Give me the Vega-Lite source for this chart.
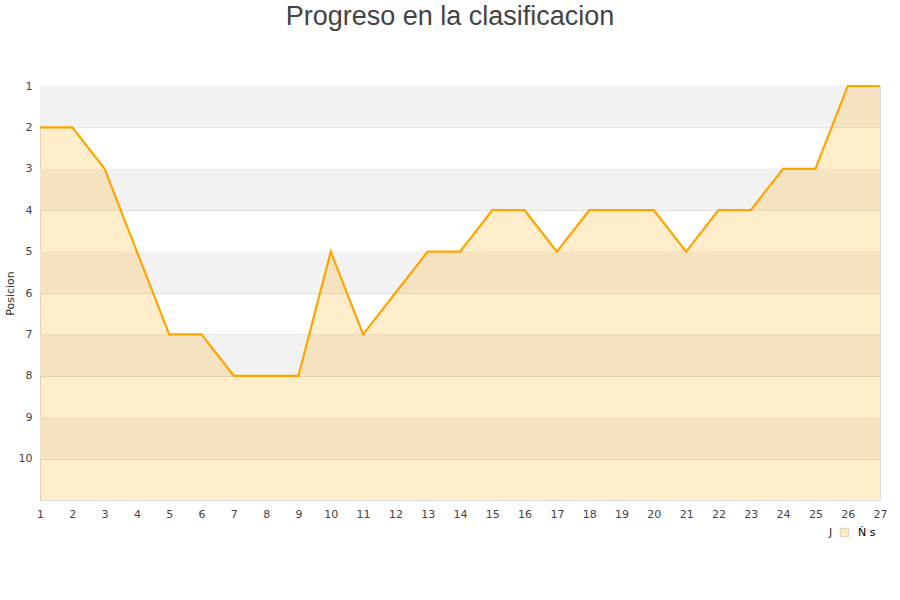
{
  "$schema": "https://vega.github.io/schema/vega-lite/v6.json",
  "width": 840,
  "height": 414,
  "autosize": "none",
  "padding": {"left": 40, "top": 86, "right": 20, "bottom": 100},
  "background": "white",
  "config": {
    "view": {"stroke": "#dddddd", "strokeWidth": 1},
    "font": "DejaVu Sans",
    "axisX": {"labelOverlap": false, "labelFlush": false, "labelBound": false}
  },
  "title": {
    "text": "Progreso en la clasificacion",
    "font": "Liberation Sans",
    "fontSize": 27,
    "fontWeight": "normal",
    "color": "#444444",
    "anchor": "middle",
    "dx": -10,
    "offset": 49
  },
  "datasets": {
    "bands": [
      {"b": 1, "e": 2},
      {"b": 3, "e": 4},
      {"b": 5, "e": 6},
      {"b": 7, "e": 8},
      {"b": 9, "e": 10}
    ],
    "pos": [
      {"jornada": 1, "posicion": 2},
      {"jornada": 2, "posicion": 2},
      {"jornada": 3, "posicion": 3},
      {"jornada": 4, "posicion": 5},
      {"jornada": 5, "posicion": 7},
      {"jornada": 6, "posicion": 7},
      {"jornada": 7, "posicion": 8},
      {"jornada": 8, "posicion": 8},
      {"jornada": 9, "posicion": 8},
      {"jornada": 10, "posicion": 5},
      {"jornada": 11, "posicion": 7},
      {"jornada": 12, "posicion": 6},
      {"jornada": 13, "posicion": 5},
      {"jornada": 14, "posicion": 5},
      {"jornada": 15, "posicion": 4},
      {"jornada": 16, "posicion": 4},
      {"jornada": 17, "posicion": 5},
      {"jornada": 18, "posicion": 4},
      {"jornada": 19, "posicion": 4},
      {"jornada": 20, "posicion": 4},
      {"jornada": 21, "posicion": 5},
      {"jornada": 22, "posicion": 4},
      {"jornada": 23, "posicion": 4},
      {"jornada": 24, "posicion": 3},
      {"jornada": 25, "posicion": 3},
      {"jornada": 26, "posicion": 1},
      {"jornada": 27, "posicion": 1}
    ]
  },
  "layer": [
    {
      "data": {"name": "bands"},
      "mark": {"type": "rect", "fill": "#f2f2f2"},
      "encoding": {
        "y": {
          "field": "b", "type": "quantitative",
          "scale": {"domain": [1, 11], "reverse": true, "zero": false, "nice": false},
          "axis": {
            "values": [1, 2, 3, 4, 5, 6, 7, 8, 9, 10],
            "title": "Posicion",
            "titleFont": "DejaVu Sans",
            "titleFontSize": 11,
            "titleFontWeight": "normal",
            "titleColor": "#333333",
            "titlePadding": 3,
            "labelFontSize": 11,
            "labelColor": "#444444",
            "labelPadding": 8,
            "labelOverlap": false,
            "ticks": false,
            "domain": false,
            "grid": true,
            "gridColor": "#dddddd",
            "gridWidth": 1
          }
        },
        "y2": {"field": "e"}
      }
    },
    {
      "data": {"name": "pos"},
      "mark": {"type": "area", "fillOpacity": 0.2, "interpolate": "linear"},
      "encoding": {
        "x": {
          "field": "jornada", "type": "quantitative",
          "scale": {"domain": [1, 27], "nice": false, "zero": false},
          "axis": {
            "values": [1,2,3,4,5,6,7,8,9,10,11,12,13,14,15,16,17,18,19,20,21,22,23,24,25,26,27],
            "tickCount": 27,
            "title": null,
            "grid": false,
            "ticks": false,
            "domain": false,
            "labelFontSize": 11,
            "labelColor": "#444444",
            "labelPadding": 8,
            "labelFlush": false,
            "labelOverlap": false
          }
        },
        "y": {"field": "posicion", "type": "quantitative"},
        "y2": {"datum": 11},
        "fill": {
          "datum": "Ṅ s",
          "scale": {"range": ["#ffa500"]},
          "legend": {
            "title": "J",
            "titleOrient": "left",
            "titleFontSize": 11,
            "titleFontWeight": "normal",
            "titleColor": "#333333",
            "titlePadding": 6,
            "orient": "none",
            "legendX": 789,
            "legendY": 441,
            "symbolType": "square",
            "symbolSize": 70,
            "symbolOpacity": 0.25,
            "symbolStrokeColor": "#6b4a10",
            "symbolStrokeWidth": 1,
            "labelFontSize": 11,
            "labelColor": "#000000",
            "labelOffset": 8
          }
        }
      }
    },
    {
      "data": {"name": "pos"},
      "mark": {"type": "line", "color": "#ffa500", "strokeWidth": 2.2},
      "encoding": {
        "x": {"field": "jornada", "type": "quantitative", "axis": {"labelOverlap": false, "tickCount": 27}},
        "y": {"field": "posicion", "type": "quantitative"}
      }
    }
  ]
}
